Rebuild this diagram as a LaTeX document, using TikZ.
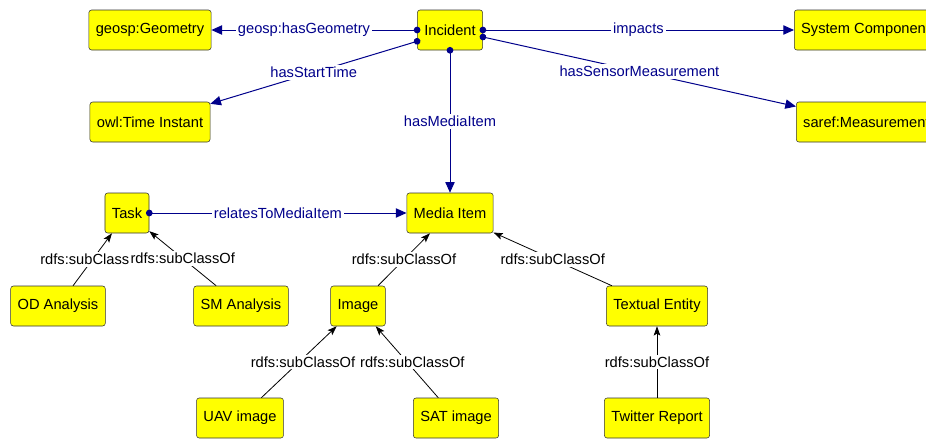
\documentclass[tikz,border=0pt]{standalone}
\usepackage{fontspec}
\setmainfont{Liberation Sans}
\usetikzlibrary{arrows.meta}
\definecolor{navy}{HTML}{00008B}
\definecolor{boxfill}{HTML}{FFFF00}
\definecolor{boxline}{HTML}{333333}

\begin{document}
\begin{tikzpicture}[x=0.75pt,y=-0.75pt,
  cls/.style={draw=boxline,fill=boxfill,rounded corners=2pt,minimum height=30pt,
    inner xsep=5.2pt,font=\fontsize{11}{13}\selectfont},
  rel/.style={draw=navy,line width=0.75pt,{Circle[length=5pt]}-{Triangle[length=8pt,width=7pt]},
    shorten <=-2.5pt},
  sub/.style={draw=black,line width=0.6pt,-{Stealth[length=7pt,width=5pt,inset=1.5pt]}},
  lbl/.style={fill=white,inner sep=1.5pt,font=\fontsize{11}{13}\selectfont},
  rlbl/.style={lbl,text=navy}]
  \useasboundingbox (0,0) rectangle (926,439);
  % classes
  \node[cls] (inc) at (450,30) {Incident};
  \node[cls] (geo) at (150,30) {geosp:Geometry};
  \node[cls,anchor=west] (sys) at (794,30) {System Component};
  \node[cls] (owl) at (150,122) {owl:Time Instant};
  \node[cls,anchor=west] (saref) at (796,122) {saref:Measurement};
  \node[cls] (media) at (450,213) {Media Item};
  \node[cls] (task) at (127,213) {Task};
  \node[cls] (od) at (58,306) {OD Analysis};
  \node[cls] (sm) at (241,306) {SM Analysis};
  \node[cls] (img) at (358,306) {Image};
  \node[cls] (txt) at (657,306) {Textual Entity};
  \node[cls] (uav) at (240,418) {UAV image};
  \node[cls] (sat) at (456,418) {SAT image};
  \node[cls] (tw) at (657,418) {Twitter Report};
  % object properties
  \draw[rel] (inc.west) -- node[rlbl,pos=0.55] {geosp:hasGeometry} (geo);
  \draw[rel] (inc.199) -- node[rlbl] {hasStartTime} (owl);
  \draw[rel] (inc.east) -- node[rlbl] {impacts} (sys);
  \draw[rel] (inc.-12) -- node[rlbl] {hasSensorMeasurement} (saref);
  \draw[rel] (inc.south) -- node[rlbl] {hasMediaItem} (media);
  \draw[rel] (task.east) -- node[rlbl] {relatesToMediaItem} (media);
  % subclasses
  \draw[sub] (od) -- node[lbl] {rdfs:subClassOf} (task);
  \draw[sub] (sm) -- node[lbl] {rdfs:subClassOf} (task);
  \draw[sub] (img) -- node[lbl] {rdfs:subClassOf} (media);
  \draw[sub] (txt) -- node[lbl] {rdfs:subClassOf} (media);
  \draw[sub] (uav) -- node[lbl,xshift=3pt] {rdfs:subClassOf} (img);
  \draw[sub] (sat) -- node[lbl,xshift=4pt] {rdfs:subClassOf} (img);
  \draw[sub] (tw) -- node[lbl] {rdfs:subClassOf} (txt);
\end{tikzpicture}
\end{document}
